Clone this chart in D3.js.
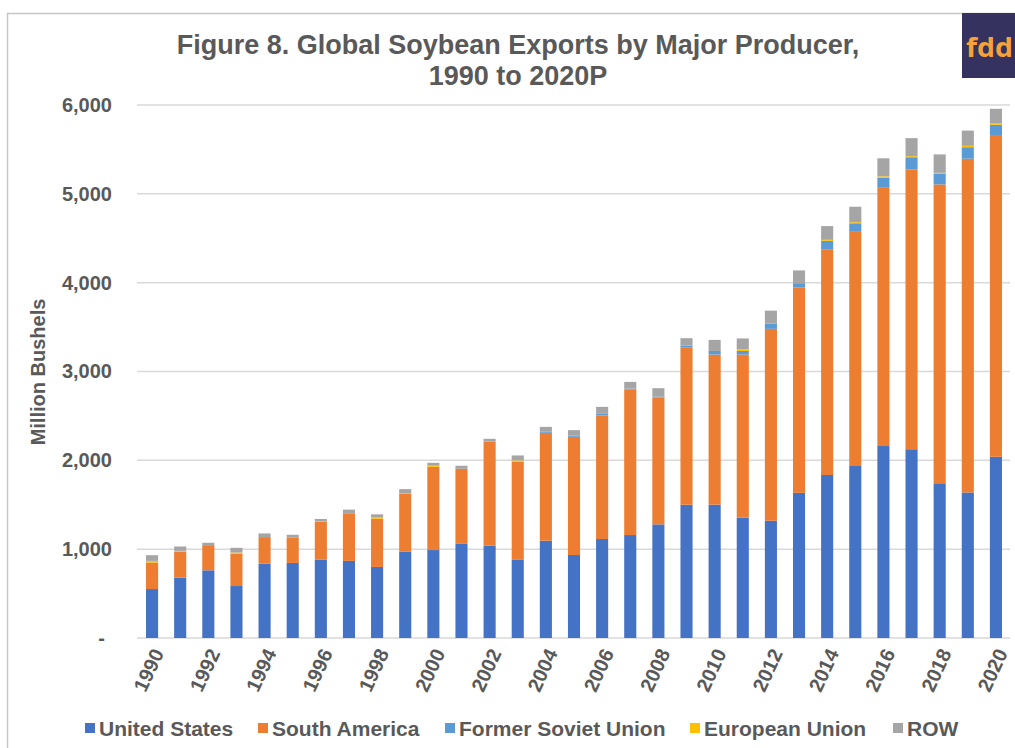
<!DOCTYPE html>
<html>
<head>
<meta charset="utf-8">
<script src="https://cdn.jsdelivr.net/npm/d3@7"></script>
<style>
  html, body { margin: 0; padding: 0; background: #ffffff; }
  svg { display: block; font-family: Arial, "Liberation Sans", sans-serif; }
</style>
</head>
<body>
<svg id="chart" width="1015" height="748"></svg>
<script>
// Global soybean exports, million bushels, by exporting region
const years = d3.range(1990, 2021);
const unitedStates = [551, 679, 762, 585, 838, 845, 883, 868, 800, 974,
  990, 1065, 1039, 885, 1095, 934, 1114, 1159, 1279, 1500,
  1501, 1356, 1320, 1634, 1835, 1936, 2161, 2125, 1742, 1638, 2040];
const southAmerica = [298, 295, 283, 366, 298, 283, 426, 536, 543, 653,
  937, 840, 1173, 1102, 1215, 1331, 1391, 1638, 1428, 1773,
  1690, 1835, 2160, 2310, 2536, 2636, 2907, 3150, 3364, 3757, 3612];
const formerSovietUnion = [0, 0, 0, 0, 0, 0, 0, 0, 0, 0,
  0, 0, 0, 0, 11, 15, 18, 11, 11, 19,
  40, 40, 60, 50, 100, 97, 115, 137, 118, 130, 125];
const europeanUnion = [19, 7, 0, 11, 0, 0, 3, 0, 12, 3,
  12, 0, 0, 12, 0, 0, 0, 0, 0, 0,
  0, 17, 0, 0, 11, 12, 14, 12, 12, 15, 14];
const restOfWorld = [64, 49, 27, 53, 41, 34, 28, 41, 37, 46,
  33, 34, 30, 56, 56, 60, 79, 75, 94, 83,
  125, 124, 145, 144, 155, 174, 203, 203, 208, 172, 166];

const seriesNames = ["United States", "South America", "Former Soviet Union", "European Union", "ROW"];
const seriesColors = ["#4472c4", "#ed7d31", "#5b9bd5", "#ffc000", "#a5a5a5"];
const yTicks = [0, 1000, 2000, 3000, 4000, 5000, 6000];
const xLabelYears = years.filter(y => y % 2 === 0);

const rows = years.map((yr, i) => ({
  year: yr,
  "United States": unitedStates[i],
  "South America": southAmerica[i],
  "Former Soviet Union": formerSovietUnion[i],
  "European Union": europeanUnion[i],
  "ROW": restOfWorld[i]
}));

const svg = d3.select("#chart");
const textColor = "#595959";

// outer frame
svg.append("path")
  .attr("d", "M7.5,748 V13.5 H1015")
  .attr("fill", "none")
  .attr("stroke", "#c6c6c6")
  .attr("stroke-width", 1.5);

// logo badge
const logo = svg.append("g");
logo.append("rect")
  .attr("x", 962).attr("y", 13).attr("width", 60).attr("height", 65)
  .attr("fill", "#35325f");
logo.append("text")
  .attr("x", 966).attr("y", 57)
  .attr("fill", "#f6a13a")
  .attr("font-size", 27).attr("font-weight", "bold")
  .attr("font-family", "'Open Sans', Arial, sans-serif")
  .attr("textLength", 47).attr("lengthAdjust", "spacingAndGlyphs")
  .text("fdd");

// title
const title = svg.append("text")
  .attr("text-anchor", "middle")
  .attr("fill", textColor)
  .attr("font-size", 27).attr("font-weight", "bold");
title.append("tspan").attr("x", 518).attr("y", 54)
  .text("Figure 8. Global Soybean Exports by Major Producer,");
title.append("tspan").attr("x", 518).attr("y", 85)
  .text("1990 to 2020P");

// scales
const x = d3.scaleBand()
  .domain(years)
  .range([138, 1010])
  .paddingInner(0.57)
  .paddingOuter(0.285);

const y = d3.scaleLinear()
  .domain([0, 6000])
  .range([638, 105]);

// gridlines
svg.append("g")
  .selectAll("line")
  .data(yTicks)
  .join("line")
  .attr("x1", 137).attr("x2", 1010)
  .attr("y1", d => y(d)).attr("y2", d => y(d))
  .attr("stroke", "#d9d9d9")
  .attr("stroke-width", 1.5);

// y axis labels
const fmt = d3.format(",");
const yAxis = svg.append("g")
  .attr("transform", "translate(112,0)")
  .call(d3.axisLeft(y).tickValues(yTicks).tickSize(0).tickPadding(0)
    .tickFormat(d => d === 0 ? "-" : fmt(d)));
yAxis.select(".domain").remove();
yAxis.selectAll("text")
  .attr("fill", textColor)
  .attr("font-size", 20).attr("font-weight", "bold")
  .attr("font-family", "Arial, 'Liberation Sans', sans-serif")
  .attr("dx", d => d === 0 ? -7 : 0);

// y axis title
svg.append("text")
  .attr("transform", "translate(45,372) rotate(-90)")
  .attr("text-anchor", "middle")
  .attr("fill", textColor)
  .attr("font-size", 20).attr("font-weight", "bold")
  .text("Million Bushels");

// stacked bars
const stacked = d3.stack().keys(seriesNames)(rows);
const color = d3.scaleOrdinal().domain(seriesNames).range(seriesColors);

svg.append("g")
  .selectAll("g")
  .data(stacked)
  .join("g")
  .attr("fill", d => color(d.key))
  .selectAll("rect")
  .data(d => d.filter(p => p[1] - p[0] > 0))
  .join("rect")
  .attr("x", d => x(d.data.year))
  .attr("width", x.bandwidth())
  .attr("y", d => y(d[1]))
  .attr("height", d => y(d[0]) - y(d[1]));

// x axis labels
const xAxis = svg.append("g")
  .attr("transform", "translate(0,646)")
  .call(d3.axisBottom(x).tickValues(xLabelYears).tickSize(0).tickPadding(0));
xAxis.select(".domain").remove();
xAxis.selectAll("text")
  .attr("fill", textColor)
  .attr("font-size", 20).attr("font-weight", "bold")
  .attr("font-family", "Arial, 'Liberation Sans', sans-serif")
  .attr("text-anchor", "end")
  .attr("dy", "0.35em")
  .attr("transform", "translate(6,4) rotate(-65)");

// legend
const legendX = [85, 258, 445, 690, 893];
const legend = svg.append("g")
  .selectAll("g")
  .data(seriesNames)
  .join("g")
  .attr("transform", (d, i) => `translate(${legendX[i]},723)`);
legend.append("rect")
  .attr("width", 10).attr("height", 10)
  .attr("fill", d => color(d));
legend.append("text")
  .attr("x", 14).attr("y", 5)
  .attr("dy", "0.36em")
  .attr("fill", textColor)
  .attr("font-size", 21).attr("font-weight", "bold")
  .text(d => d);
</script>
</body>
</html>
